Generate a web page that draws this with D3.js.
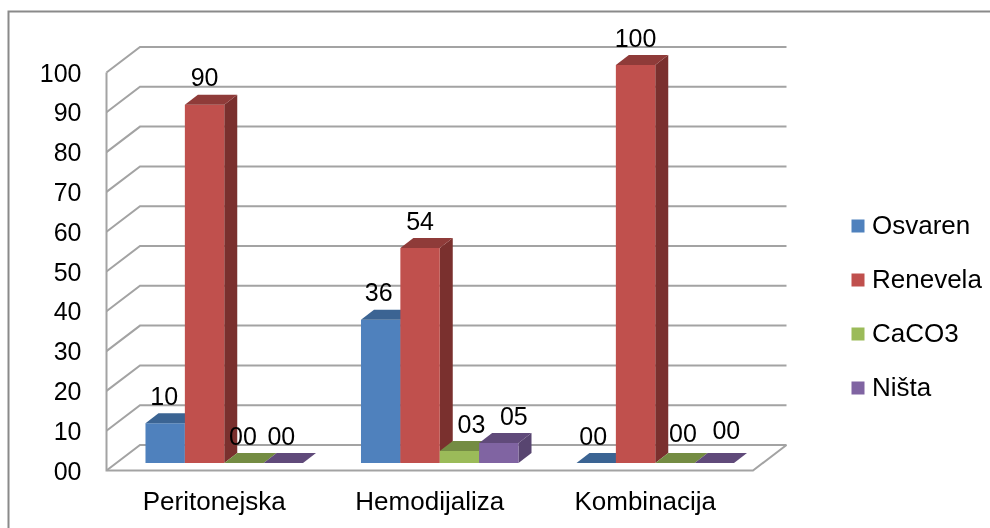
<!DOCTYPE html>
<html>
<head>
<meta charset="utf-8">
<script src="https://cdn.jsdelivr.net/npm/d3@7"></script>
<style>
html, body { margin: 0; padding: 0; background: #fff; }
svg { display: block; filter: blur(0.55px); }
text { font-family: "Liberation Sans", Arial, sans-serif; fill: #000; }
</style>
</head>
<body>
<div class="chart_wrapper"></div>
<script>
const categories = ["Peritonejska", "Hemodijaliza", "Kombinacija"]
const seriesNames = ["Osvaren", "Renevela", "CaCO3", "Ništa"]
const osvaren = [10, 36, 0]
const renevela = [90, 54, 100]
const caco3 = [0, 3, 0]
const nista = [0, 5, 0]
const yTicks = [0, 10, 20, 30, 40, 50, 60, 70, 80, 90, 100]

const seriesValues = [osvaren, renevela, caco3, nista]
const front = ["#4f81bd", "#c0504d", "#9bbb59", "#8064a2"]
const top_ = ["#3b6493", "#8f3b39", "#748c43", "#604a7a"]
const side = ["#375a85", "#7a302e", "#69803c", "#584570"]

// the labels in the original were dragged by hand, so nudge those few [dx, dy]
const nudge = {
	"2-1": [12, 0], "3-1": [15, 0],
	"0-0": [-1, 0], "0-1": [-2, 0], "2-0": [-1, 0], "3-0": [-2, 0],
	"0-2": [-3, 0], "2-2": [8, -3], "3-2": [12, -6]
}

const width = 990, height = 528
const floorY = 470.5, wallTop = 72.5
// depth of the 3d box and of each bar
const wall = {dx: 33.5, dy: -25.5}
const inset = {dx: 10, dy: -7.5}
const depth = {dx: 13, dy: -10}

const svg = d3.select(".chart_wrapper")
	.append("svg")
	.attr("width", width)
	.attr("height", height)

const x0 = d3.scaleBand()
	.domain(categories)
	.range([106.5, 753])
	.paddingInner(0.269)
	.paddingOuter(0.1345)

const x1 = d3.scaleBand()
	.domain(seriesNames)
	.range([0, x0.bandwidth()])

const y = d3.scaleLinear()
	.domain([0, 100])
	.range([floorY, wallTop])

const line = d3.line()
const gridColor = "#a3a3a3"

// outer frame runs off the right and bottom of the picture
svg.append("path")
	.attr("d", line([[8.5, height + 5], [8.5, 11.5], [width + 5, 11.5]]))
	.attr("fill", "none")
	.attr("stroke", "#8a8a8a")
	.attr("stroke-width", 2)

// gridlines, up the side wall then along the back wall
svg.selectAll("path.grid")
	.data(yTicks)
	.enter()
	.append("path")
	.attr("class", "grid")
	.attr("d", d => line([
		[x0.range()[0], y(d)],
		[x0.range()[0] + wall.dx, y(d) + wall.dy],
		[x0.range()[1] + wall.dx, y(d) + wall.dy]
	]))
	.attr("fill", "none")
	.attr("stroke", gridColor)
	.attr("stroke-width", 2)

// front edges of the box
svg.append("path")
	.attr("d", line([
		[x0.range()[0], y(100)],
		[x0.range()[0], y(0)],
		[x0.range()[1], y(0)],
		[x0.range()[1] + wall.dx, y(0) + wall.dy]
	]))
	.attr("fill", "none")
	.attr("stroke", gridColor)
	.attr("stroke-width", 2)

const yAxis = d3.axisLeft(y)
	.tickValues(yTicks)
	.tickFormat(d => d3.format("02")(d))
	.tickSize(0)
	.tickPadding(25)

svg.append("g")
	.attr("transform", "translate(" + x0.range()[0] + ",0.5)")
	.call(yAxis)
	.call(g => g.select(".domain").remove())
	.call(g => g.selectAll("text").style("font-size", "25px").style("font-family", "Liberation Sans").attr("fill", "#000"))

const xAxis = d3.axisBottom(x0)
	.tickSize(0)
	.tickPadding(21)

svg.append("g")
	.attr("transform", "translate(0," + floorY + ")")
	.call(xAxis)
	.call(g => g.select(".domain").remove())
	.call(g => g.selectAll("text").style("font-size", "26px").style("font-family", "Liberation Sans").attr("fill", "#000"))

// bars, left to right so each front covers its neighbour's side
categories.forEach(function (cat, c) {
	seriesNames.forEach(function (name, s) {
		const v = seriesValues[s][c]
		const xa = x0(cat) + x1(name) + inset.dx
		const xb = xa + x1.bandwidth()
		const yb = y(0) + inset.dy
		const yt = y(v) + inset.dy

		const g = svg.append("g").attr("class", "bar")

		if (v > 0) {
			g.append("path")
				.attr("d", line([[xb, yb], [xb + depth.dx, yb + depth.dy], [xb + depth.dx, yt + depth.dy], [xb, yt]]) + "Z")
				.attr("fill", side[s])
			g.append("path")
				.attr("d", line([[xa, yb], [xb, yb], [xb, yt], [xa, yt]]) + "Z")
				.attr("fill", front[s])
		}
		g.append("path")
			.attr("d", line([[xa, yt], [xb, yt], [xb + depth.dx, yt + depth.dy], [xa + depth.dx, yt + depth.dy]]) + "Z")
			.attr("fill", top_[s])
	})
})

// value labels go on top of all the bars
categories.forEach(function (cat, c) {
	seriesNames.forEach(function (name, s) {
		const v = seriesValues[s][c]
		const n = nudge[s + "-" + c] || [0, 0]
		svg.append("text")
			.attr("x", x0(cat) + x1(name) + inset.dx + x1.bandwidth() / 2 + n[0])
			.attr("y", y(v) + inset.dy - 18.5 + n[1])
			.attr("text-anchor", "middle")
			.style("font-size", "25px")
			.text(d3.format("02")(v))
	})
})

const legendY = d3.scalePoint()
	.domain(seriesNames)
	.range([226, 388])

const legend = svg.selectAll("g.legend")
	.data(seriesNames)
	.enter()
	.append("g")
	.attr("class", "legend")
	.attr("transform", d => "translate(851.5," + legendY(d) + ")")

legend.append("rect")
	.attr("y", -6.5)
	.attr("width", 13)
	.attr("height", 13)
	.attr("fill", (d, i) => front[i])

legend.append("text")
	.attr("x", 20.5)
	.attr("y", 8)
	.style("font-size", "26px")
	.text(d => d)
</script>
</body>
</html>
